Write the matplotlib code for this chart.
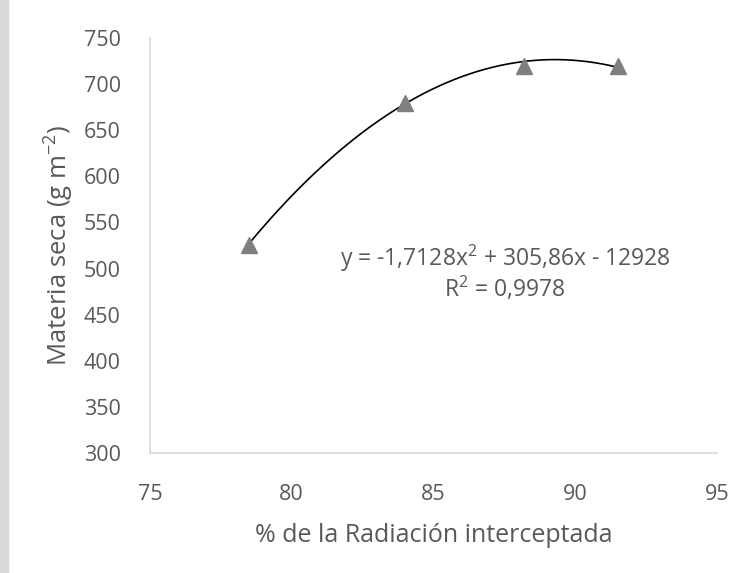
import numpy as np
import matplotlib
matplotlib.use('Agg')
import matplotlib.pyplot as plt
from matplotlib.patches import Rectangle

# datos
rad = [78.5, 84.0, 88.2, 91.5]
ms = [525, 680, 720, 720]
coef = [-1.7128, 305.86, -12928]
eq_text = 'y = -1,7128x$^{2}$ + 305,86x - 12928'
r2_text = 'R$^{2}$ = 0,9978'
xticks = [75, 80, 85, 90, 95]
yticks = [300, 350, 400, 450, 500, 550, 600, 650, 700, 750]

plt.rcParams['font.family'] = ['Open Sans', 'DejaVu Sans']
plt.rcParams['mathtext.fontset'] = 'custom'
plt.rcParams['mathtext.rm'] = 'Open Sans'

txt = '#595959'

fig = plt.figure(figsize=(7.45, 5.73), dpi=100)
fig.patches.append(Rectangle((0, 0), 8 / 745, 1, transform=fig.transFigure,
                             color='#d9d9d9', zorder=0))
ax = fig.add_axes([150 / 745, 120 / 573, 567 / 745, 415 / 573])

xs = np.linspace(rad[0], rad[-1], 200)
ax.plot(xs, np.polyval(coef, xs), color='black', lw=1.2, zorder=2)
ax.plot(rad, ms, linestyle='none', marker='^', ms=11, color='#7f7f7f', zorder=3)

ax.set_xlim(75, 95)
ax.set_ylim(300, 750)
ax.set_xticks(xticks)
ax.set_yticks(yticks)
ax.tick_params(length=0, labelsize=15.5, colors=txt)
ax.tick_params(axis='x', pad=22)
ax.tick_params(axis='y', pad=21)

for s in ['top', 'right']:
    ax.spines[s].set_visible(False)
for s in ['left', 'bottom']:
    ax.spines[s].set_color('#d9d9d9')
    ax.spines[s].set_linewidth(1.2)

ax.set_xlabel('% de la Radiación interceptada', fontsize=18, color=txt, labelpad=13)
ax.set_ylabel('Materia seca (g m$^{-2}$)', fontsize=18.5, color=txt, labelpad=6)

fig.text(505 / 745, 1 - 258 / 573, eq_text, ha='center', va='center', fontsize=16.5, color=txt)
fig.text(505 / 745, 1 - 289 / 573, r2_text, ha='center', va='center', fontsize=16.5, color=txt)

fig.savefig('out.png', dpi=100)
